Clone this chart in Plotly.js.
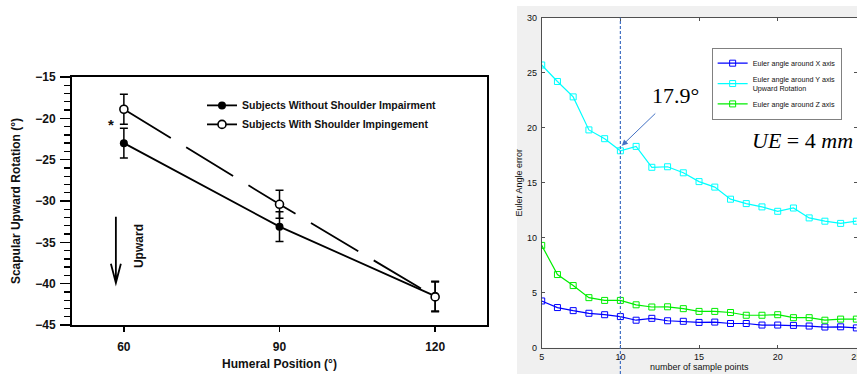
<!DOCTYPE html>
<html><head><meta charset="utf-8">
<script src="https://cdn.plot.ly/plotly-3.0.1.min.js"></script>
<style>html,body{margin:0;padding:0;background:#fff;overflow:hidden}#chart{width:857px;height:374px}</style>
</head><body><div id="chart"></div>
<script>
// ---- Left chart data ----
const humeralPos = [60, 90, 120];
const withoutImpairment = [-23.0, -33.1, -41.5];
const withoutErr = [1.8, 1.8, 1.8];
const withImpingement = [-18.9, -30.4, -41.6];
const withErr = [1.8, 1.7, 1.8];
const leftNames = ['Subjects Without Shoulder Impairment', 'Subjects With Shoulder Impingement'];

// ---- Right chart data ----
const samplePoints = [5,6,7,8,9,10,11,12,13,14,15,16,17,18,19,20,21,22,23,24,25];
const eulerX = [4.25,3.65,3.37,3.13,3.0,2.83,2.5,2.67,2.45,2.4,2.3,2.33,2.2,2.2,2.06,2.06,2.03,1.97,1.88,1.9,1.8];
const eulerY = [25.7,24.2,22.8,19.8,19.0,17.9,18.3,16.4,16.45,15.9,15.1,14.6,13.5,13.1,12.8,12.4,12.7,11.8,11.5,11.3,11.5];
const eulerZ = [9.3,6.65,5.65,4.55,4.3,4.3,3.9,3.7,3.72,3.55,3.3,3.3,3.2,2.95,2.95,3.0,2.73,2.73,2.5,2.6,2.6];
const rightNames = ['Euler angle around X axis', 'Euler angle around Y axis<br>Upward Rotation', 'Euler angle around Z axis'];
const rightColors = ['#0000ff', '#00ffff', '#00ee00'];

const SANS = 'Liberation Sans, Arial, sans-serif';
const SERIF = 'Liberation Serif, Times New Roman, serif';

const traces = [
  {x: humeralPos, y: withoutImpairment, name: leftNames[0], type: 'scatter', mode: 'lines+markers',
   xaxis: 'x', yaxis: 'y', legend: 'legend',
   line: {color: '#000', width: 1.8},
   marker: {symbol: 'circle', size: 8, color: '#000'},
   error_y: {type: 'data', array: withoutErr, visible: true, color: '#000', thickness: 1.5, width: 4}},
  {x: humeralPos, y: withImpingement, name: leftNames[1], type: 'scatter', mode: 'lines+markers',
   xaxis: 'x', yaxis: 'y', legend: 'legend',
   line: {color: '#000', width: 1.8, dash: '55px,18px'},
   marker: {symbol: 'circle', size: 8, color: '#fff', line: {color: '#000', width: 1.6}},
   error_y: {type: 'data', array: withErr, visible: true, color: '#000', thickness: 1.5, width: 4}}
];
const rightSeries = [eulerX, eulerY, eulerZ];
rightSeries.forEach((ys, i) => {
  traces.push({x: samplePoints, y: ys, name: rightNames[i], type: 'scatter', mode: 'lines+markers',
    xaxis: 'x2', yaxis: 'y2', legend: 'legend2',
    line: {color: rightColors[i], width: 1.2},
    marker: {symbol: 'square-open', size: 6, color: rightColors[i], line: {width: 1}}});
});

const layout = {
  width: 857, height: 374,
  margin: {l: 0, r: 0, t: 0, b: 0},
  paper_bgcolor: '#fff', plot_bgcolor: '#fff',
  font: {family: SANS, color: '#000'},
  xaxis: {domain: [0.0840, 0.5683], range: [50, 130], tickvals: humeralPos, anchor: 'y',
    ticks: 'outside', ticklen: 5, tickwidth: 1.5, tickcolor: '#000',
    showline: true, linewidth: 2, linecolor: '#000', mirror: true,
    showgrid: false, zeroline: false, ticklabelstandoff: 5,
    tickfont: {family: SANS, size: 12, weight: 'bold', color: '#111'},
    title: {text: 'Humeral Position (°)', font: {family: SANS, size: 12, weight: 'bold', color: '#111'}, standoff: 6}},
  yaxis: {domain: [0.1310, 0.7941], range: [-45, -15], tickmode: 'linear', tick0: -45, dtick: 5, anchor: 'x',
    ticks: 'outside', ticklen: 10, tickwidth: 1.6, tickcolor: '#000',
    minor: {tickmode: 'linear', tick0: -45, dtick: 1, ticks: 'outside', ticklen: 6, tickwidth: 1.3, tickcolor: '#000', showgrid: false},
    showline: true, linewidth: 2, linecolor: '#000', mirror: true,
    showgrid: false, zeroline: false, ticklabelstandoff: 2,
    tickfont: {family: SANS, size: 12, weight: 'bold', color: '#111'},
    title: {text: 'Scapular Upward Rotation (°)', font: {family: SANS, size: 12, weight: 'bold', color: '#111'}, standoff: 12}},
  xaxis2: {domain: [0.6321, 1], range: [5, 25.04], tickmode: 'linear', tick0: 5, dtick: 5, anchor: 'y2',
    ticks: 'inside', ticklen: 3, tickwidth: 0.8, tickcolor: '#262626',
    showline: true, linewidth: 0.8, linecolor: '#262626', mirror: 'ticks',
    showgrid: false, zeroline: false, ticklabelstandoff: 1, ticklabeloverflow: 'allow',
    tickfont: {family: SANS, size: 9, color: '#111'},
    title: {text: 'number of sample points', font: {family: SANS, size: 9, color: '#111'}, standoff: 2}},
  yaxis2: {domain: [0.0703, 0.9527], range: [0, 30], tickmode: 'linear', tick0: 0, dtick: 5, anchor: 'x2',
    ticks: 'inside', ticklen: 3, tickwidth: 0.8, tickcolor: '#262626',
    showline: true, linewidth: 0.8, linecolor: '#262626', mirror: 'ticks',
    showgrid: false, zeroline: false, ticklabelstandoff: 2,
    tickfont: {family: SANS, size: 9, color: '#111'},
    title: {text: 'Euler Angle error', font: {family: SANS, size: 9, color: '#111'}, standoff: 2}},
  legend: {x: 0.2357, y: 0.757, xanchor: 'left', yanchor: 'top', bgcolor: 'rgba(0,0,0,0)',
    font: {family: SANS, size: 10.5, weight: 'bold', color: '#111'}, tracegroupgap: 0},
  legend2: {x: 0.8304, y: 0.8725, xanchor: 'left', yanchor: 'top', bgcolor: '#fff',
    bordercolor: '#808080', borderwidth: 1,
    font: {family: SANS, size: 7.2, color: '#111'}, tracegroupgap: 0},
  shapes: [
    {type: 'rect', xref: 'paper', yref: 'paper', x0: 517/857, x1: 1, y0: 0, y1: 1 - 6/374,
     fillcolor: '#f0f0f0', line: {width: 0}, layer: 'below'},
    {type: 'rect', xref: 'x2 domain', yref: 'y2 domain', x0: 0, x1: 1, y0: 0, y1: 1,
     fillcolor: '#fff', line: {width: 0}, layer: 'below'},
    {type: 'line', xref: 'x2', yref: 'paper', x0: 10, x1: 10, y0: 0, y1: 0.9527,
     line: {color: '#4472c4', width: 1.2, dash: '3px,2px'}},
    {type: 'path', xref: 'x', yref: 'y',
     path: 'M 58.46,-31.9 L 58.46,-39.9 M 57.5,-37.6 L 58.46,-39.9 L 59.42,-37.6',
     line: {color: '#000', width: 1.8}}
  ],
  annotations: [
    {xref: 'x', yref: 'y', x: 57.6, y: -20.7, text: '*', showarrow: false,
     font: {family: SANS, size: 15, weight: 'bold', color: '#111'}},
    {xref: 'x', yref: 'y', x: 62.8, y: -35.4, text: 'Upward', textangle: -90, showarrow: false,
     font: {family: SANS, size: 12, weight: 'bold', color: '#111'}},
    {xref: 'x2', yref: 'y2', x: 10.09, y: 18.36, ax: 35, ay: -33.7, text: '', showarrow: true,
     arrowcolor: '#4472c4', arrowwidth: 1, arrowhead: 2, arrowsize: 1.2},
    {xref: 'x2', yref: 'y2', x: 13.5, y: 22.9, text: '17.9°', showarrow: false,
     font: {family: SERIF, size: 22, color: '#000'}},
    {xref: 'x2', yref: 'y2', x: 21.6, y: 18.8, text: '<i>UE</i> = 4 <i>mm</i>', showarrow: false,
     font: {family: SERIF, size: 22, color: '#000'}}
  ]
};

Plotly.newPlot('chart', traces, layout, {staticPlot: true, displayModeBar: false});
</script>
</body></html>
